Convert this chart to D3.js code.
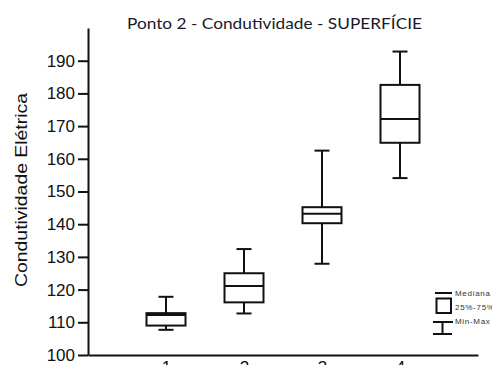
<!DOCTYPE html>
<html>
<head>
<meta charset="utf-8">
<script src="https://cdn.jsdelivr.net/npm/d3@7"></script>
<style>
  html, body { margin: 0; padding: 0; background: #fff; }
  svg { display: block; }
</style>
</head>
<body>
<svg id="chart" width="492" height="365"></svg>
<script>
// Sampling campaigns and their five-number summaries
const categories = ["1", "2", "3", "4"];
const minValues    = [107.7, 112.7, 127.9, 154.1];
const q1Values     = [109.0, 116.1, 140.3, 164.9];
const medianValues = [112.2, 121.1, 143.2, 172.2];
const q3Values     = [112.8, 125.0, 145.2, 182.6];
const maxValues    = [117.8, 132.4, 162.5, 192.8];
const yTicks = [100, 110, 120, 130, 140, 150, 160, 170, 180, 190];
const legendLabels = ["Mediana", "25%-75%", "Min-Max"];

const svg = d3.select("#chart");
const plotLeft = 88, plotRight = 478, plotBottom = 355, plotTop = 28;

const x = d3.scalePoint().domain(categories).range([plotLeft, plotRight]).padding(1);
const y = d3.scaleLinear().domain([100, 200]).range([plotBottom, plotTop]);

const ink = "#111";

// Title
svg.append("text")
  .attr("x", 274.5).attr("y", 29)
  .attr("text-anchor", "middle")
  .attr("font-family", "Lato, 'Open Sans', sans-serif")
  .attr("font-size", 15)
  .attr("textLength", 295)
  .attr("lengthAdjust", "spacingAndGlyphs")
  .attr("fill", "#1a1a2a")
  .text("Ponto 2 - Condutividade - SUPERFÍCIE");

// Y axis
const yAxis = svg.append("g")
  .attr("transform", `translate(${plotLeft},0)`)
  .call(d3.axisLeft(y).tickValues(yTicks).tickSize(10).tickSizeOuter(0).tickPadding(3).tickFormat(d3.format("d")));
yAxis.select(".domain").attr("stroke", ink).attr("stroke-width", 2);
yAxis.selectAll(".tick line").attr("stroke", ink).attr("stroke-width", 2);
yAxis.selectAll(".tick text")
  .attr("font-family", "'Liberation Sans', Arial, sans-serif")
  .attr("font-size", 17)
  .attr("fill", ink);

// X axis
const xAxis = svg.append("g")
  .attr("transform", `translate(0,${plotBottom})`)
  .call(d3.axisBottom(x).tickSize(0).tickSizeOuter(0).tickPadding(6));
xAxis.select(".domain").attr("stroke", ink).attr("stroke-width", 2);
xAxis.selectAll(".tick text")
  .attr("font-family", "'Liberation Sans', Arial, sans-serif")
  .attr("font-size", 17)
  .attr("fill", ink);

// Y axis title
svg.append("text")
  .attr("transform", "translate(27,190) rotate(-90)")
  .attr("text-anchor", "middle")
  .attr("font-family", "'Liberation Sans', Arial, sans-serif")
  .attr("font-size", 16)
  .attr("textLength", 194)
  .attr("lengthAdjust", "spacingAndGlyphs")
  .attr("fill", ink)
  .text("Condutividade Elétrica");

// Box plots
const boxW = 39, capW = 15;
const data = categories.map((c, i) => ({
  c, min: minValues[i], q1: q1Values[i], med: medianValues[i], q3: q3Values[i], max: maxValues[i]
}));

const g = svg.append("g")
  .attr("fill", "none")
  .attr("stroke", ink)
  .attr("stroke-width", 2);

const box = g.selectAll("g.box").data(data).join("g").attr("class", "box");
// whiskers
box.append("line")
  .attr("x1", d => x(d.c)).attr("x2", d => x(d.c))
  .attr("y1", d => y(d.max)).attr("y2", d => y(d.q3));
box.append("line")
  .attr("x1", d => x(d.c)).attr("x2", d => x(d.c))
  .attr("y1", d => y(d.q1)).attr("y2", d => y(d.min));
// caps
box.append("line")
  .attr("x1", d => x(d.c) - capW / 2).attr("x2", d => x(d.c) + capW / 2)
  .attr("y1", d => y(d.max)).attr("y2", d => y(d.max));
box.append("line")
  .attr("x1", d => x(d.c) - capW / 2).attr("x2", d => x(d.c) + capW / 2)
  .attr("y1", d => y(d.min)).attr("y2", d => y(d.min));
// interquartile box
box.append("rect")
  .attr("x", d => x(d.c) - boxW / 2).attr("width", boxW)
  .attr("y", d => y(d.q3)).attr("height", d => y(d.q1) - y(d.q3))
  .attr("fill", "#fff");
// median
box.append("line")
  .attr("x1", d => x(d.c) - boxW / 2).attr("x2", d => x(d.c) + boxW / 2)
  .attr("y1", d => y(d.med)).attr("y2", d => y(d.med));

// Legend
const lg = svg.append("g").attr("stroke", ink).attr("stroke-width", 2).attr("fill", "none");
lg.append("line").attr("x1", 435).attr("x2", 452).attr("y1", 293).attr("y2", 293);
lg.append("rect").attr("x", 436.5).attr("y", 298.5).attr("width", 14.5).attr("height", 14.5);
lg.append("line").attr("x1", 433).attr("x2", 453).attr("y1", 322).attr("y2", 322);
lg.append("line").attr("x1", 442.5).attr("x2", 442.5).attr("y1", 322).attr("y2", 334);
lg.append("line").attr("x1", 433).attr("x2", 452).attr("y1", 334).attr("y2", 334);

svg.selectAll("text.legend").data(legendLabels).join("text")
  .attr("class", "legend")
  .attr("x", 455)
  .attr("y", (d, i) => [296, 310, 324][i])
  .attr("font-family", "'Liberation Sans', Arial, sans-serif")
  .attr("font-size", 8)
  .attr("letter-spacing", 0.7)
  .attr("fill", "#333")
  .text(d => d);
</script>
</body>
</html>
